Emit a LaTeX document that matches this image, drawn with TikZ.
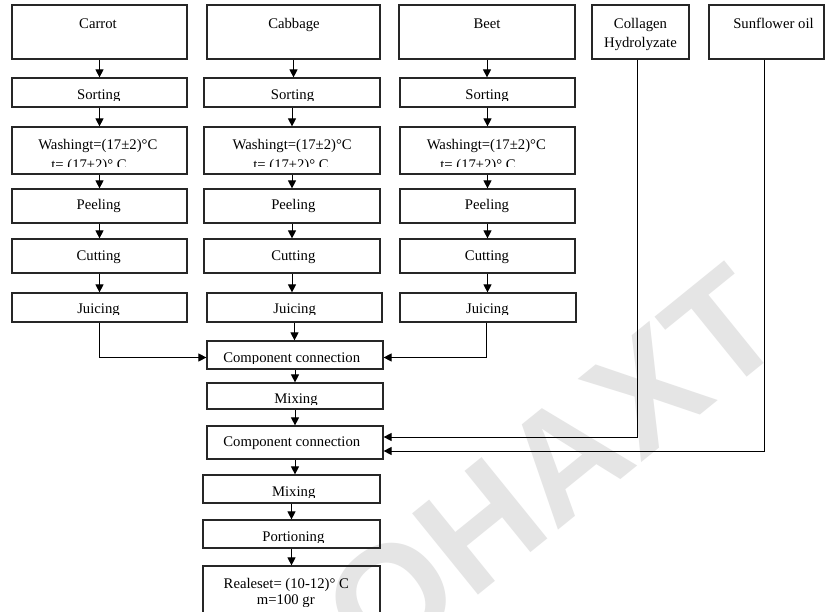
\documentclass[tikz,border=0pt]{standalone}
\usepackage{fontspec}
\setmainfont{Liberation Serif}
\newfontfamily\markfont{Liberation Sans}
\usetikzlibrary{arrows.meta,fit}

\tikzset{
  box/.style={draw=black!85, line width=1.2bp, inner sep=0pt, fit={#1}},
  lbl/.style={anchor=base, inner sep=0pt, font=\fontsize{14.7bp}{17bp}\selectfont},
  link/.style={draw=black, line width=1bp, -{Triangle[length=8bp,width=8bp]}},
}

% label whose lower part is cut off at a given line (text frame clipping)
\newcommand\clippedlabel[5]{%
  \begin{scope}
    \clip (#2-130,#3-40) rectangle (#2+130,#4);
    \node[lbl] (#1) at (#2,#3) {#5};
  \end{scope}}

\begin{document}
\begin{tikzpicture}[x=1bp,y=-1bp]
\path[use as bounding box, fill=white] (0,0) rectangle (826,612);
\clip (0,0) rectangle (826,612);

% background mark
\node[rotate=39, text=black!10, inner sep=0pt,
      font=\markfont\bfseries\fontsize{152bp}{152bp}\selectfont] (mark) at (552,468) {ОНАХТ};

% raw materials
\node[box={(12,5) (187,59)}]   (carrot)   {};
\node[box={(207,5) (380,59)}]  (cabbage)  {};
\node[box={(399,5) (575,59)}]  (beet)     {};
\node[box={(592,5) (689,59)}]  (collagen) {};
\node[box={(709,5) (824,59)}]  (oil)      {};

% vegetable processing lines
\node[box={(12,78) (187,107)}]   (sortA) {};
\node[box={(204,78) (380,107)}]  (sortB) {};
\node[box={(400,78) (575,107)}]  (sortC) {};
\node[box={(12,127) (187,174)}]  (washA) {};
\node[box={(204,127) (380,174)}] (washB) {};
\node[box={(400,127) (575,174)}] (washC) {};
\node[box={(12,189) (187,223)}]  (peelA) {};
\node[box={(204,189) (380,223)}] (peelB) {};
\node[box={(400,189) (575,223)}] (peelC) {};
\node[box={(12,239) (187,273)}]  (cutA)  {};
\node[box={(204,239) (380,273)}] (cutB)  {};
\node[box={(400,239) (575,273)}] (cutC)  {};
\node[box={(12,293) (187,322)}]  (juiceA) {};
\node[box={(207,293) (382,322)}] (juiceB) {};
\node[box={(400,293) (576,322)}] (juiceC) {};

% common line
\node[box={(207,341) (383,369)}] (joinA)   {};
\node[box={(207,383) (383,409)}] (mixA)    {};
\node[box={(207,426) (383,459)}] (joinB)   {};
\node[box={(203,475) (380,503)}] (mixB)    {};
\node[box={(203,520) (380,548)}] (portion) {};
\node[box={(203,566) (380,618)}] (release) {};

% labels
\node[lbl] (tCarrot)  at (98,28.3)    {Carrot};
\node[lbl] (tCabbage) at (294,28.3)   {Cabbage};
\node[lbl] (tBeet)    at (487,28.3)   {Beet};
\node[lbl] (tColl)    at (640.5,28.3) {Collagen};
\node[lbl] (tHydro)   at (640.5,47.3) {Hydrolyzate};
\node[lbl] (tOil)     at (773.5,28.3) {Sunflower oil};

\clippedlabel{tSortA}{98.8}{100}{101}{Sorting}
\clippedlabel{tSortB}{292.5}{100}{101}{Sorting}
\clippedlabel{tSortC}{487}{100}{101}{Sorting}

\node[lbl] (tWashA) at (97.8,149.5)  {Washingt=(17±2)°C};
\node[lbl] (tWashB) at (292.2,149.5) {Washingt=(17±2)°C};
\node[lbl] (tWashC) at (486.3,149.5) {Washingt=(17±2)°C};
\clippedlabel{tTempA}{89}{169.5}{166.7}{t= (17±2)° C}
\clippedlabel{tTempB}{291}{169.5}{166.7}{t= (17±2)° C}
\clippedlabel{tTempC}{478}{169.5}{166.7}{t= (17±2)° C}

\node[lbl] (tPeelA) at (98.7,210)  {Peeling};
\node[lbl] (tPeelB) at (293.3,210) {Peeling};
\node[lbl] (tPeelC) at (487,210)   {Peeling};
\node[lbl] (tCutA)  at (98.7,260)  {Cutting};
\node[lbl] (tCutB)  at (293.3,260) {Cutting};
\node[lbl] (tCutC)  at (487,260)   {Cutting};

\clippedlabel{tJuiceA}{98.5}{313}{314}{Juicing}
\clippedlabel{tJuiceB}{294.7}{313}{314}{Juicing}
\clippedlabel{tJuiceC}{487.4}{313}{314}{Juicing}

\clippedlabel{tJoinA}{291.7}{362}{363}{Component connection}
\clippedlabel{tMixA}{296}{403}{404}{Mixing}
\node[lbl] (tJoinB) at (291.8,446) {Component connection};
\clippedlabel{tMixB}{293.7}{496}{497}{Mixing}
\clippedlabel{tPortion}{293.4}{541.5}{542.5}{Portioning}
\node[lbl] (tRelease) at (286.3,588) {Realeset= (10-12)° C};
\clippedlabel{tMass}{285.8}{604.5}{606.5}{m=100 gr}

% straight flow arrows
\foreach \a/\b in {carrot/sortA, sortA/washA, washA/peelA, peelA/cutA, cutA/juiceA,
                   cabbage/sortB, sortB/washB, washB/peelB, peelB/cutB, cutB/juiceB,
                   beet/sortC, sortC/washC, washC/peelC, peelC/cutC, cutC/juiceC,
                   juiceB/joinA, joinA/mixA, mixA/joinB, joinB/mixB, mixB/portion, portion/release}
  \draw[link] (\a.south) -- (\a.south |- \b.north);

% side feeds
\draw[link] (juiceA.south) |- ([yshift=-2.5bp]joinA.west);
\draw[link] ([xshift=-2bp]juiceC.south) |- ([yshift=-2.5bp]joinA.east);
\draw[link] ([xshift=-3bp]collagen.south) |- ([yshift=5.5bp]joinB.east);
\draw[link] ([xshift=-2.5bp]oil.south) |- ([yshift=-8.5bp]joinB.east);
\end{tikzpicture}
\end{document}
